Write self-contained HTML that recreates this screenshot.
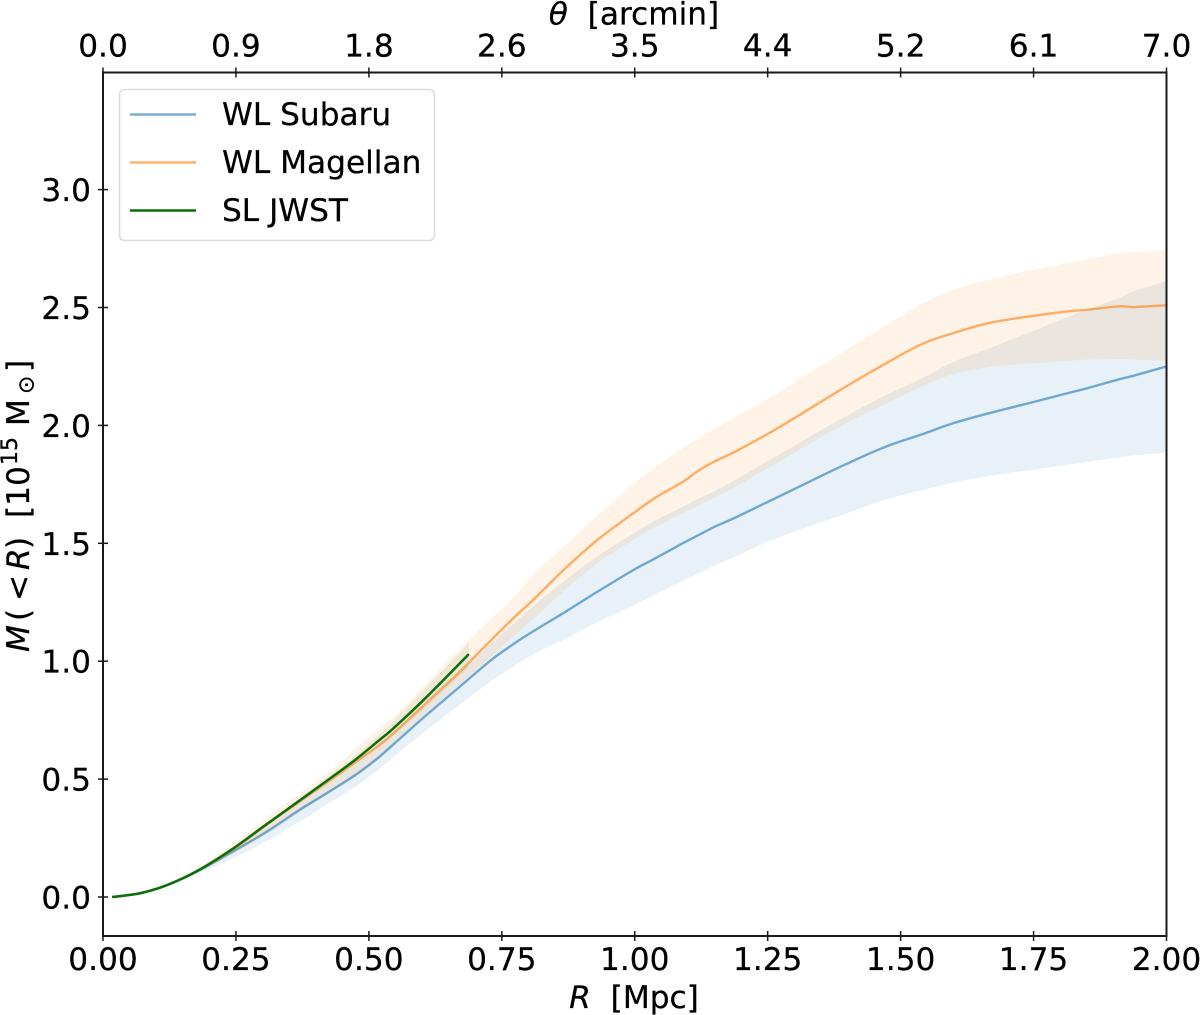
<!DOCTYPE html>
<html>
<head>
<meta charset="utf-8">
<title>Cumulative mass profile</title>
<style>
html,body{margin:0;padding:0;background:#fff;}
svg{display:block;}
text{font-family:"DejaVu Sans","Liberation Sans",sans-serif;font-size:31.2px;fill:#000;stroke:#000;stroke-width:0.25px;}
.it{font-style:italic;}
</style>
</head>
<body>
<svg id="chart" width="1200" height="1015" viewBox="0 0 1200 1015" xmlns="http://www.w3.org/2000/svg">
  <defs><clipPath id="plot-clip"><rect x="103" y="72.5" width="1063.5" height="863.5"/></clipPath></defs>
  <g id="bands" clip-path="url(#plot-clip)"></g>
  <g id="lines" clip-path="url(#plot-clip)"></g>
  <g id="ticks"></g>
  <rect x="103" y="72.5" width="1063.5" height="863.5" fill="none" stroke="#1a1a1a" stroke-width="2"/>
  <text x="634" y="24.5" text-anchor="middle" xml:space="preserve"><tspan class="it">θ</tspan>  [arcmin]</text>
  <text x="634" y="1008" text-anchor="middle" xml:space="preserve"><tspan class="it">R</tspan>  [Mpc]</text>
  <text transform="translate(29,652) rotate(-90)"><tspan class="it" x="0">M</tspan><tspan x="31">(</tspan><tspan x="51">&lt;</tspan><tspan class="it" x="82">R</tspan><tspan x="103">)</tspan><tspan x="134">[10</tspan><tspan x="187" dy="-12" font-size="22">15</tspan><tspan x="226" dy="12">M</tspan><tspan x="258" dy="4.5" font-size="22">⊙</tspan><tspan x="280" dy="-4.5">]</tspan></text>
  <g>
    <rect x="119.5" y="89.5" width="315" height="151" rx="5" ry="5" fill="#fff" fill-opacity="0.8" stroke="#dcdcdc" stroke-width="1.6"/>
    <line x1="130" x2="196" y1="114.5" y2="114.5" stroke="#1f77b4" stroke-opacity="0.6" stroke-width="2.4"/>
    <text x="222" y="125">WL Subaru</text>
    <line x1="130" x2="196" y1="162.5" y2="162.5" stroke="#ff7f0e" stroke-opacity="0.6" stroke-width="2.4"/>
    <text x="222" y="173">WL Magellan</text>
    <line x1="130" x2="196" y1="210.5" y2="210.5" stroke="#0a6e0a" stroke-width="2.4"/>
    <text x="222" y="221">SL JWST</text>
  </g>
</svg>
<script>
const radiusGrid = [0.02,0.07,0.12,0.18,0.25,0.31,0.37,0.43,0.48,0.52,0.55,0.61,0.67,0.73,0.78,0.81,0.87,0.93,1.0,1.04,1.09,1.12,1.15,1.19,1.27,1.39,1.47,1.54,1.6,1.67,1.76,1.82,1.85,1.91,1.94,2.0];
const subaruMean = [0,0.016,0.05,0.112,0.2,0.28,0.37,0.453,0.526,0.595,0.655,0.775,0.89,1.005,1.085,1.128,1.21,1.295,1.39,1.438,1.5,1.535,1.57,1.61,1.697,1.828,1.908,1.962,2.01,2.054,2.105,2.14,2.157,2.195,2.212,2.25];
const subaruLower = [0,0.015,0.046,0.1,0.17,0.24,0.32,0.405,0.475,0.545,0.6,0.71,0.815,0.915,0.99,1.03,1.095,1.165,1.24,1.285,1.342,1.372,1.405,1.445,1.525,1.62,1.684,1.725,1.758,1.787,1.815,1.835,1.845,1.865,1.873,1.885];
const subaruUpper = [0,0.017,0.052,0.118,0.212,0.3,0.4,0.495,0.57,0.64,0.7,0.82,0.95,1.075,1.175,1.235,1.345,1.445,1.545,1.598,1.655,1.69,1.72,1.77,1.875,2.03,2.125,2.2,2.27,2.33,2.41,2.465,2.49,2.54,2.57,2.612];
const magellanMean = [0,0.016,0.05,0.113,0.21,0.31,0.405,0.5,0.58,0.645,0.702,0.827,0.953,1.09,1.2,1.262,1.395,1.515,1.632,1.695,1.76,1.808,1.847,1.89,1.99,2.155,2.26,2.345,2.392,2.436,2.468,2.485,2.49,2.505,2.502,2.51];
const magellanLower = [0,0.015,0.047,0.105,0.19,0.268,0.36,0.45,0.52,0.59,0.66,0.785,0.9,1.02,1.12,1.18,1.305,1.415,1.518,1.57,1.628,1.66,1.695,1.74,1.845,2.0,2.09,2.165,2.218,2.248,2.265,2.275,2.279,2.281,2.279,2.273];
const magellanUpper = [0,0.017,0.055,0.125,0.235,0.341,0.44,0.54,0.64,0.715,0.772,0.91,1.05,1.18,1.29,1.368,1.495,1.617,1.755,1.825,1.904,1.945,1.985,2.035,2.14,2.31,2.42,2.515,2.575,2.62,2.665,2.69,2.705,2.73,2.735,2.744];
const jwstRadius = [0.017,0.07,0.12,0.18,0.245,0.30,0.345,0.408,0.47,0.52,0.546,0.609,0.688];
const jwstMean = [0,0.016,0.05,0.114,0.206,0.296,0.369,0.472,0.574,0.666,0.715,0.849,1.03];
const jwstLower = [0,0.016,0.049,0.112,0.202,0.29,0.36,0.46,0.555,0.64,0.685,0.81,0.975];
const jwstUpper = [0,0.016,0.051,0.116,0.21,0.302,0.378,0.485,0.59,0.69,0.745,0.89,1.077];
const xTickValues = [0,0.25,0.5,0.75,1.0,1.25,1.5,1.75,2.0];
const xTickLabels = ["0.00","0.25","0.50","0.75","1.00","1.25","1.50","1.75","2.00"];
const topTickLabels = ["0.0","0.9","1.8","2.6","3.5","4.4","5.2","6.1","7.0"];
const yTickValues = [0,0.5,1.0,1.5,2.0,2.5,3.0];
const yTickLabels = ["0.0","0.5","1.0","1.5","2.0","2.5","3.0"];

const SVGNS = 'http://www.w3.org/2000/svg';
function xScale(r){ return 103 + r * 531.75; }
function yScale(m){ return 897 - m * 235.8; }
function toPoints(rs, vs){
  return rs.map(function(r,i){ return [xScale(r), yScale(vs[i])]; });
}
function smoothSegments(pts){
  let d = '';
  for(let i = 0; i < pts.length - 1; i++){
    const p0 = pts[Math.max(i-1,0)], p1 = pts[i], p2 = pts[i+1], p3 = pts[Math.min(i+2,pts.length-1)];
    const c1x = p1[0] + (p2[0]-p0[0])/6, c1y = p1[1] + (p2[1]-p0[1])/6;
    const c2x = p2[0] - (p3[0]-p1[0])/6, c2y = p2[1] - (p3[1]-p1[1])/6;
    d += ' C' + c1x.toFixed(2) + ' ' + c1y.toFixed(2) + ' ' + c2x.toFixed(2) + ' ' + c2y.toFixed(2) + ' ' + p2[0].toFixed(2) + ' ' + p2[1].toFixed(2);
  }
  return d;
}
function linePath(rs, vs){
  const pts = toPoints(rs, vs);
  return 'M' + pts[0][0].toFixed(2) + ' ' + pts[0][1].toFixed(2) + smoothSegments(pts);
}
function bandPath(rs, lo, hi){
  const top = toPoints(rs, hi);
  const bottom = toPoints(rs, lo).reverse();
  return 'M' + top[0][0].toFixed(2) + ' ' + top[0][1].toFixed(2) + smoothSegments(top) +
    ' L' + bottom[0][0].toFixed(2) + ' ' + bottom[0][1].toFixed(2) + smoothSegments(bottom) + ' Z';
}
const bandsG = document.getElementById('bands');
const linesG = document.getElementById('lines');
const ticksG = document.getElementById('ticks');

const bandSubaru = document.createElementNS(SVGNS,'path');


bandSubaru.setAttribute('d', bandPath(radiusGrid, subaruLower, subaruUpper));
bandSubaru.setAttribute('fill', '#1f77b4');
bandSubaru.setAttribute('fill-opacity', '0.1');
bandsG.appendChild(bandSubaru);

const bandMagellan = document.createElementNS(SVGNS,'path');


bandMagellan.setAttribute('d', bandPath(radiusGrid, magellanLower, magellanUpper));
bandMagellan.setAttribute('fill', '#ff7f0e');
bandMagellan.setAttribute('fill-opacity', '0.1');
bandsG.appendChild(bandMagellan);

const bandJwst = document.createElementNS(SVGNS,'path');


bandJwst.setAttribute('d', bandPath(jwstRadius, jwstLower, jwstUpper));
bandJwst.setAttribute('fill', '#008000');
bandJwst.setAttribute('fill-opacity', '0.07');
bandsG.appendChild(bandJwst);

const lineSubaru = document.createElementNS(SVGNS,'path');


lineSubaru.setAttribute('d', linePath(radiusGrid, subaruMean));
lineSubaru.setAttribute('fill', 'none');
lineSubaru.setAttribute('stroke', '#1f77b4');
lineSubaru.setAttribute('stroke-opacity', '0.6');
lineSubaru.setAttribute('stroke-width', '2.4');
linesG.appendChild(lineSubaru);

const lineMagellan = document.createElementNS(SVGNS,'path');


lineMagellan.setAttribute('d', linePath(radiusGrid, magellanMean));
lineMagellan.setAttribute('fill', 'none');
lineMagellan.setAttribute('stroke', '#ff7f0e');
lineMagellan.setAttribute('stroke-opacity', '0.6');
lineMagellan.setAttribute('stroke-width', '2.4');
linesG.appendChild(lineMagellan);

const lineJwst = document.createElementNS(SVGNS,'path');


lineJwst.setAttribute('d', linePath(jwstRadius, jwstMean));
lineJwst.setAttribute('fill', 'none');
lineJwst.setAttribute('stroke', '#0a6e0a');
lineJwst.setAttribute('stroke-width', '2.5');
linesG.appendChild(lineJwst);

xTickValues.forEach(function(v,i){
  const px = xScale(v);
  const bt = document.createElementNS(SVGNS,'line');
  
  
  bt.setAttribute('x1', px); bt.setAttribute('x2', px);
  bt.setAttribute('y1', 931); bt.setAttribute('y2', 941);
  bt.setAttribute('stroke', '#1a1a1a'); bt.setAttribute('stroke-width', '1.5');
  ticksG.appendChild(bt);
  const tt = document.createElementNS(SVGNS,'line');
  
  
  tt.setAttribute('x1', px); tt.setAttribute('x2', px);
  tt.setAttribute('y1', 67.5); tt.setAttribute('y2', 77.5);
  tt.setAttribute('stroke', '#1a1a1a'); tt.setAttribute('stroke-width', '1.5');
  ticksG.appendChild(tt);
  const bl = document.createElementNS(SVGNS,'text');
  
  
  bl.setAttribute('x', px); bl.setAttribute('y', 970);
  bl.setAttribute('text-anchor', 'middle');
  bl.textContent = xTickLabels[i];
  ticksG.appendChild(bl);
  const tl = document.createElementNS(SVGNS,'text');
  
  
  tl.setAttribute('x', px); tl.setAttribute('y', 56.5);
  tl.setAttribute('text-anchor', 'middle');
  tl.textContent = topTickLabels[i];
  ticksG.appendChild(tl);
});
yTickValues.forEach(function(v,i){
  const py = yScale(v);
  const t = document.createElementNS(SVGNS,'line');
  
  
  t.setAttribute('x1', 98); t.setAttribute('x2', 108);
  t.setAttribute('y1', py); t.setAttribute('y2', py);
  t.setAttribute('stroke', '#1a1a1a'); t.setAttribute('stroke-width', '1.5');
  ticksG.appendChild(t);
  const l = document.createElementNS(SVGNS,'text');
  
  
  l.setAttribute('x', 91); l.setAttribute('y', py + 11.5);
  l.setAttribute('text-anchor', 'end');
  l.textContent = yTickLabels[i];
  ticksG.appendChild(l);
});
</script>
</body>
</html>
